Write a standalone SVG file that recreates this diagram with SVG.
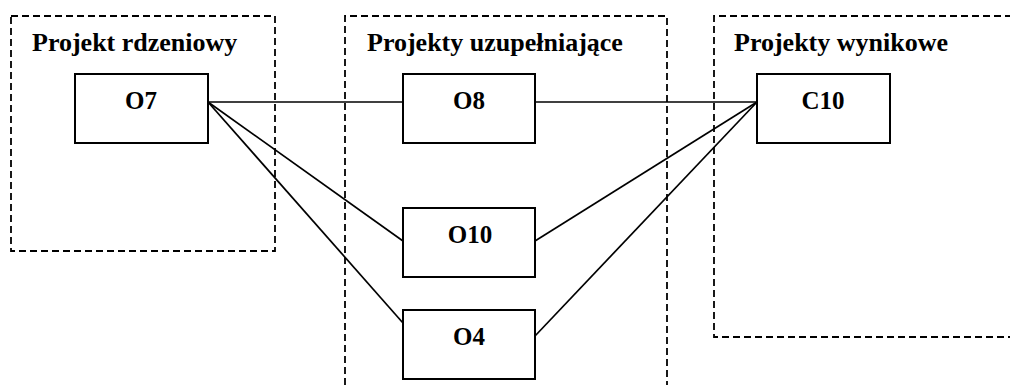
<svg xmlns="http://www.w3.org/2000/svg" width="1010" height="385" viewBox="0 0 1010 385">
<style>
.grp{fill:none;stroke:#000;stroke-width:1.8;stroke-dasharray:7 4}
.node rect{fill:#fff;stroke:#000;stroke-width:2}
.lbl{font-family:"Liberation Serif","Times New Roman",serif;font-weight:bold;font-size:25px;fill:#000;text-anchor:middle}
.ttl{font-family:"Liberation Serif","Times New Roman",serif;font-weight:bold;font-size:26px;fill:#000}
.conn line{stroke:#000;stroke-width:1.7}
</style>
<rect width="1010" height="385" fill="#fff"/>
<g id="groups">
<g id="group-core"><rect class="grp" x="11" y="16" width="264" height="235"/><text class="ttl" x="32" y="51">Projekt rdzeniowy</text></g>
<g id="group-supp"><path class="grp" d="M345,385 V16 H667 V385"/><text class="ttl" x="367" y="51">Projekty uzupełniające</text></g>
<g id="group-result"><path class="grp" d="M1012,16 H714 V337 H1012"/><text class="ttl" x="734" y="51">Projekty wynikowe</text></g>
</g>
<g id="connectors" class="conn">
<line x1="208" y1="102" x2="403" y2="102"/>
<line x1="208" y1="102" x2="403" y2="241"/>
<line x1="208" y1="102" x2="403" y2="323"/>
<line x1="535" y1="102" x2="757" y2="102"/>
<line x1="535" y1="241" x2="757" y2="102"/>
<line x1="535" y1="336" x2="757" y2="102"/>
</g>
<g id="O7" class="node"><rect x="75" y="74" width="133" height="69"/><text class="lbl" x="141" y="109">O7</text></g>
<g id="O8" class="node"><rect x="403" y="74" width="132" height="69"/><text class="lbl" x="469" y="109">O8</text></g>
<g id="O10" class="node"><rect x="403" y="208" width="132" height="69"/><text class="lbl" x="470" y="243">O10</text></g>
<g id="O4" class="node"><rect x="403" y="310" width="132" height="69"/><text class="lbl" x="469" y="345">O4</text></g>
<g id="C10" class="node"><rect x="757" y="74" width="133" height="69"/><text class="lbl" x="823" y="109">C10</text></g>
</svg>
